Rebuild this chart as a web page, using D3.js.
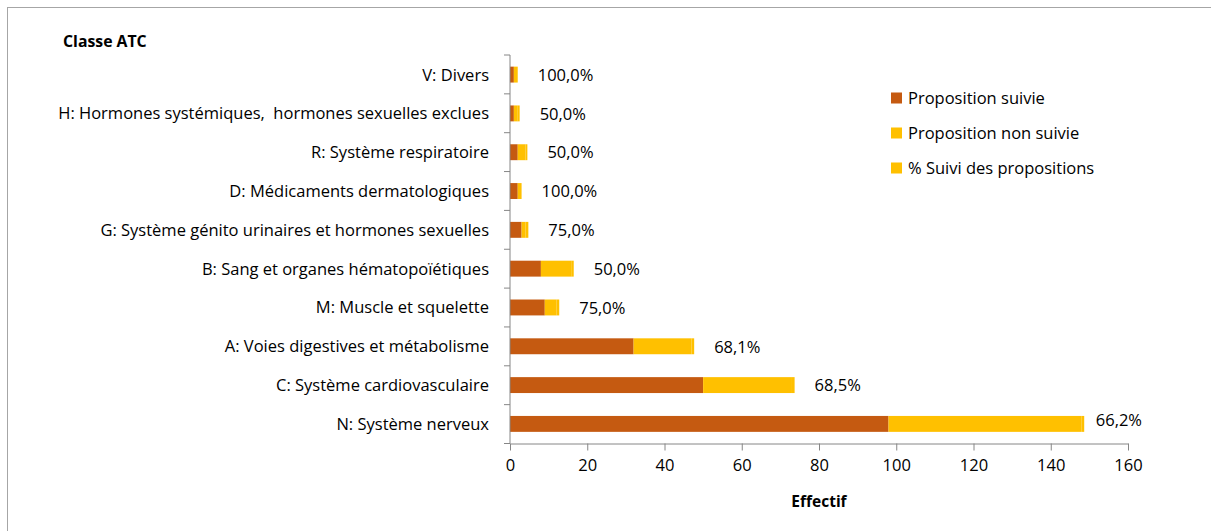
<!DOCTYPE html>
<html>
<head>
<meta charset="utf-8">
<style>
body { margin: 0; background: #fff; }
svg { font-family: "Open Sans", Lato, sans-serif; }
</style>
</head>
<body>
<svg id="chart" width="1211" height="531"></svg>
<script src="https://cdn.jsdelivr.net/npm/d3@7"></script>
<script>
// categories from top to bottom
var categories = [
  "V: Divers",
  "H: Hormones systémiques,  hormones sexuelles exclues",
  "R: Système respiratoire",
  "D: Médicaments dermatologiques",
  "G: Système génito urinaires et hormones sexuelles",
  "B: Sang et organes hématopoïétiques",
  "M: Muscle et squelette",
  "A: Voies digestives et métabolisme",
  "C: Système cardiovasculaire",
  "N: Système nerveux"
];
var suivie    = [1, 1, 2, 2, 3, 8, 9, 32, 50, 98];
var nonSuivie = [0, 1, 2, 0, 1, 8, 3, 15, 23, 50];
var pctSuivi  = [1, 0.5, 0.5, 1, 0.75, 0.5, 0.75, 0.681, 0.685, 0.662];
var xTicks = [0, 20, 40, 60, 80, 100, 120, 140, 160];
var seriesNames = ["Proposition suivie", "Proposition non suivie", "% Suivi des propositions"];
var colors = ["#C55A11", "#FFC000", "#FFC000"];

var svg = d3.select("#chart");
var axisColor = "#868686";
var fs = 16.5;

// chart frame
svg.append("rect")
  .attr("x", 7.5).attr("y", 7.5)
  .attr("width", 1220).attr("height", 540)
  .attr("fill", "none").attr("stroke", "#a6a6a6");

var yTop = 55, yBottom = 443.5;
var x = d3.scaleLinear().domain([0, 160]).range([510, 1128]);
var y = d3.scaleBand().domain(categories).range([yTop, yBottom]).paddingInner(0.59).paddingOuter(0.3);

var rows = categories.map(function(c, i) {
  return { cat: c, vals: [suivie[i], nonSuivie[i], pctSuivi[i]], pct: pctSuivi[i] };
});

var stack = d3.stack().keys([0, 1, 2]).value(function(d, k) { return d.vals[k]; });
var layers = stack(rows);

svg.selectAll("g.layer").data(layers).enter().append("g")
  .attr("class", "layer")
  .attr("fill", function(d, i) { return colors[i]; })
  .selectAll("rect").data(function(d) { return d; }).enter().append("rect")
  .attr("x", function(d) { return x(d[0]); })
  .attr("width", function(d) { return Math.max(0, x(d[1]) - x(d[0])); })
  .attr("y", function(d) { return y(d.data.cat); })
  .attr("height", y.bandwidth());

// x axis
var xAxis = svg.append("g")
  .attr("transform", "translate(0," + yBottom + ")")
  .call(d3.axisBottom(x).tickValues(xTicks).tickSize(7).tickSizeOuter(0).tickPadding(9));
xAxis.select(".domain").attr("stroke", axisColor);
xAxis.selectAll(".tick line").attr("stroke", axisColor);
xAxis.selectAll(".tick text").attr("font-size", fs).attr("fill", "#000").attr("font-family", "'Open Sans', sans-serif");

// y axis with ticks between categories
svg.append("line")
  .attr("x1", 510).attr("x2", 510)
  .attr("y1", yTop).attr("y2", yBottom)
  .attr("stroke", axisColor);
var bounds = d3.range(categories.length + 1).map(function(i) { return yTop + i * (yBottom - yTop) / categories.length; });
svg.selectAll("line.ytick").data(bounds).enter().append("line")
  .attr("class", "ytick")
  .attr("x1", 504).attr("x2", 510)
  .attr("y1", function(d) { return d; }).attr("y2", function(d) { return d; })
  .attr("stroke", axisColor);

svg.selectAll("text.cat").data(categories).enter().append("text")
  .attr("class", "cat")
  .attr("x", 489)
  .attr("y", function(d) { return y(d) + y.bandwidth() / 2; })
  .attr("dy", "0.36em")
  .attr("text-anchor", "end")
  .attr("font-size", fs)
  .attr("fill", "#000")
  .style("white-space", "pre")
  .text(function(d) { return d; });

// percentage labels
var fmt = function(v) { return d3.format(".1f")(v * 100).replace(".", ",") + "%"; };
var plotRight = 1142;
svg.selectAll("text.pct").data(rows).enter().append("text")
  .attr("class", "pct")
  .attr("y", function(d) { return y(d.cat) + y.bandwidth() / 2; })
  .attr("font-size", fs)
  .attr("fill", "#000")
  .text(function(d) { return fmt(d.pct); })
  .attr("x", function(d) {
    var end = x(d.vals[0] + d.vals[1] + d.vals[2]);
    var w = this.getComputedTextLength();
    return Math.min(end + 20, plotRight - w);
  })
  .attr("dy", function(d) {
    var end = x(d.vals[0] + d.vals[1] + d.vals[2]);
    return end + 20 + this.getComputedTextLength() > plotRight ? "0.12em" : "0.38em";
  });

// titles
svg.append("text").attr("x", 63).attr("y", 47)
  .attr("font-size", 15.8).attr("font-weight", "bold").text("Classe ATC");
svg.append("text").attr("x", x(80)).attr("y", 507)
  .attr("text-anchor", "middle")
  .attr("font-size", 15.5).attr("font-weight", "bold").text("Effectif");

// legend
var legend = svg.selectAll("g.leg").data(seriesNames).enter().append("g")
  .attr("class", "leg")
  .attr("transform", function(d, i) { return "translate(891," + (98 + i * 35) + ")"; });
legend.append("rect")
  .attr("x", 0).attr("y", -5.5).attr("width", 11).attr("height", 11)
  .attr("fill", function(d, i) { return colors[i]; });
legend.append("text")
  .attr("x", 17).attr("dy", "0.36em")
  .attr("font-size", fs).attr("fill", "#000")
  .text(function(d) { return d; });
</script>
</body>
</html>
